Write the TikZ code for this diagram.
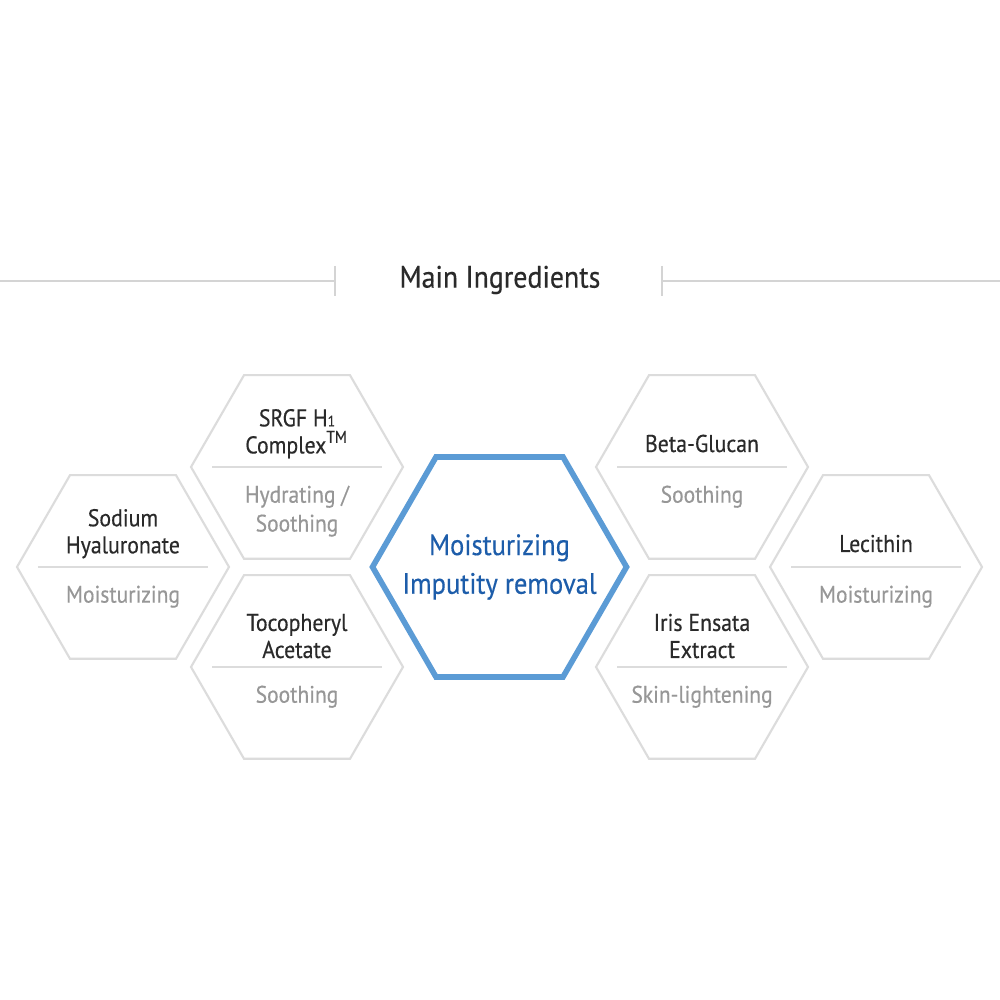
\documentclass[tikz,border=0pt]{standalone}
\usepackage{fontspec}
\setmainfont{PT Sans}[FakeStretch=0.9]
\newfontfamily\medfont{PT Sans}[FakeStretch=0.9, FakeBold=0.35]
\usepackage{tikz}
\usetikzlibrary{shapes,positioning}

\definecolor{HexGray}{HTML}{DCDCDC}
\definecolor{RuleGray}{HTML}{D4D4D4}
\definecolor{NameGray}{HTML}{2A2A2A}
\definecolor{UseGray}{HTML}{979797}
\definecolor{CoreBlue}{HTML}{5B9BD5}
\definecolor{CoreText}{HTML}{1D5DAA}

\begin{document}
\begin{tikzpicture}
		\tikzstyle{Cell}	= [regular polygon, regular polygon sides=6, draw=HexGray, line width=0.6pt, minimum size=2.12cm, inner sep=0pt]
		\tikzstyle{Core}	= [regular polygon, regular polygon sides=6, draw=CoreBlue, line width=1.6pt, minimum size=2.54cm, inner sep=0pt]
		\tikzstyle{Name}	= [text=NameGray, font=\medfont\fontsize{6.9}{7.7}\selectfont, align=center, inner sep=0pt]
		\tikzstyle{Use}		= [text=UseGray, font=\medfont\fontsize{6.8}{8.2}\selectfont, align=center, inner sep=0pt]
		\tikzstyle{Claim}	= [text=CoreText, font=\medfont\fontsize{8.4}{11}\selectfont, align=center, inner sep=0pt]
		\tikzstyle{Head}	= [text=NameGray, font=\medfont\fontsize{8.8}{10}\selectfont, inner sep=0pt]
		\tikzstyle{Sep}		= [HexGray, line width=0.6pt]
		\tikzstyle{Rule}	= [RuleGray, line width=0.8pt]

		\useasboundingbox [fill=white] (0,0) rectangle (10,10);

		% title bar
		\node (head) at (5.0,7.2) [Head] {Main Ingredients};
		\coordinate (rl0) at (0,7.19);
		\coordinate (rl1) at (3.35,7.19);
		\coordinate (rr0) at (6.62,7.19);
		\coordinate (rr1) at (10,7.19);
		\draw [-] (rl0) to (rl1) [Rule];
		\draw [-] (rr0) to (rr1) [Rule];
		\draw [-] ([yshift=0.15cm]rl1) to ([yshift=-0.15cm]rl1) [Rule];
		\draw [-] ([yshift=0.15cm]rr0) to ([yshift=-0.15cm]rr0) [Rule];

		% hexagons
		\node (core) at (4.995,4.33) [Core] {};
		\node (h1) at (1.23,4.33) [Cell] {};
		\node (h2) at (2.97,5.33) [Cell] {};
		\node (h3) at (2.97,3.33) [Cell] {};
		\node (h4) at (7.02,5.33) [Cell] {};
		\node (h5) at (7.02,3.33) [Cell] {};
		\node (h6) at (8.76,4.33) [Cell] {};

		\draw [-] ([xshift=-0.85cm]h1.center) to ([xshift=0.85cm]h1.center) [Sep];
		\draw [-] ([xshift=-0.85cm]h2.center) to ([xshift=0.85cm]h2.center) [Sep];
		\draw [-] ([xshift=-0.85cm]h3.center) to ([xshift=0.85cm]h3.center) [Sep];
		\draw [-] ([xshift=-0.85cm]h4.center) to ([xshift=0.85cm]h4.center) [Sep];
		\draw [-] ([xshift=-0.85cm]h5.center) to ([xshift=0.85cm]h5.center) [Sep];
		\draw [-] ([xshift=-0.85cm]h6.center) to ([xshift=0.85cm]h6.center) [Sep];

		% texts
		\node (claim) at (core.center) [Claim] {Moisturizing\\Imputity removal};

		\node (n1) [Name, above=0.08 of h1.center] {Sodium\\Hyaluronate};
		\node (u1) [Use, below=0.18 of h1.center] {Moisturizing};
		\node (n2) [Name, above=0.08 of h2.center] {SRGF H{\fontsize{4.3}{5}\selectfont 1}\\Complex\textsuperscript{TM}};
		\node (u2) [Use, below=0.18 of h2.center] {Hydrating /\\Soothing};
		\node (n3) [Name, above=0.08 of h3.center] {Tocopheryl\\Acetate};
		\node (u3) [Use, below=0.18 of h3.center] {Soothing};
		\node (n4) [Name, above=0.14 of h4.center] {Beta-Glucan};
		\node (u4) [Use, below=0.18 of h4.center] {Soothing};
		\node (n5) [Name, above=0.08 of h5.center] {Iris Ensata\\Extract};
		\node (u5) [Use, below=0.18 of h5.center] {Skin-lightening};
		\node (n6) [Name, above=0.14 of h6.center] {Lecithin};
		\node (u6) [Use, below=0.18 of h6.center] {Moisturizing};
	\end{tikzpicture}
\end{document}
